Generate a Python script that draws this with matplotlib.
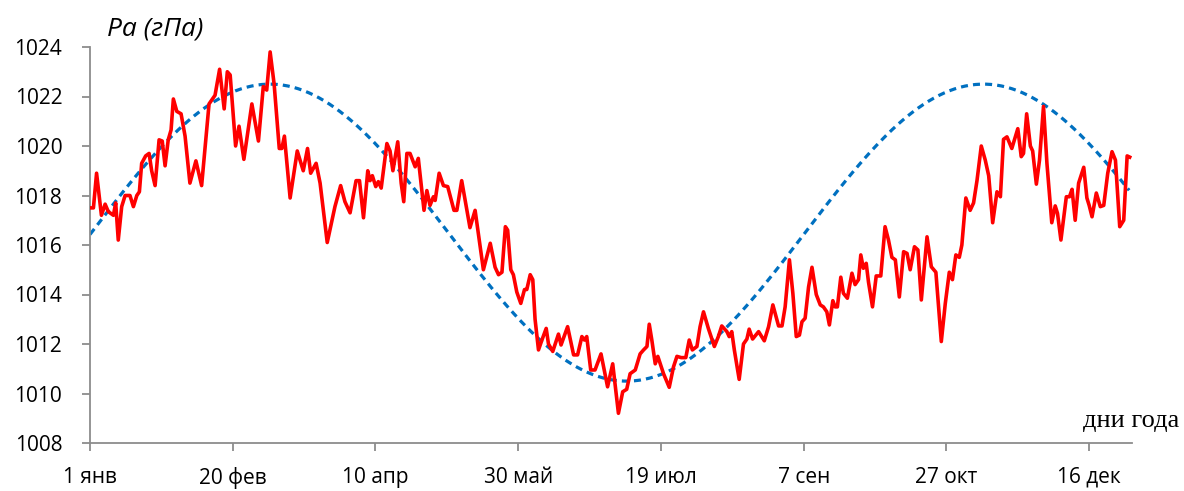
import numpy as np
import matplotlib
matplotlib.use("Agg")
import matplotlib.pyplot as plt

# Observed daily pressure (day of year, hPa)
days = [1.0, 2.2, 3.3, 5.0, 6.3, 7.4, 9.2, 10.0, 10.9, 12.1, 13.3, 15.0, 16.2, 17.4, 18.3, 19.1,
        20.5, 21.7, 22.6, 23.8, 25.2, 26.3, 27.3, 28.4, 29.4, 30.2, 31.4, 32.9, 34.3, 36.0, 38.1,
        40.1, 42.7, 44.8, 46.4, 48.0, 49.1, 50.1, 52.0, 53.2, 54.9, 57.7, 60.0, 61.7, 62.9, 64.1,
        65.5, 67.3, 68.2, 69.1, 71.1, 73.6, 75.7, 77.2, 78.3, 80.2, 81.6, 84.1, 86.8, 88.8, 90.3,
        92.1, 94.2, 95.4, 96.8, 98.3, 99.1, 99.9, 101.1, 102.0, 103.0, 105.0, 106.1, 107.1, 108.8,
        110.0, 110.9, 112.0, 113.1, 114.9, 116.0, 118.0, 119.0, 120.1, 121.3, 121.9, 123.3, 124.8,
        126.3, 128.5, 129.5, 131.2, 134.1, 135.9, 138.8, 141.2, 142.9, 144.1, 145.3, 146.5, 147.3,
        148.4, 149.3, 150.5, 151.9, 153.2, 154.0, 155.2, 156.1, 156.9, 158.1, 159.3, 160.8, 161.6,
        163.1, 165.1, 166.0, 168.3, 169.8, 170.4, 171.8, 173.3, 174.2, 175.0, 176.4, 177.9, 180.0,
        182.3, 184.1, 186.1, 187.6, 189.0, 190.2, 192.0, 193.7, 194.9, 196.1, 196.9, 197.8, 199.0,
        199.9, 201.9, 203.9, 205.4, 206.6, 208.1, 209.7, 210.9, 212.0, 213.6, 214.7, 215.9, 217.6,
        219.7, 221.1, 222.3, 224.1, 224.9, 225.8, 226.7, 228.4, 229.9, 231.1, 231.9, 233.1, 235.2,
        237.2, 238.7, 240.2, 242.2, 243.4, 244.5, 246.0, 247.2, 248.4, 249.5, 250.4, 251.5, 252.7,
        253.9, 255.4, 256.8, 257.9, 259.1, 260.0, 261.2, 262.0, 262.8, 264.0, 264.9, 266.3, 267.9,
        269.0, 270.2, 271.0, 271.9, 272.9, 273.7, 275.1, 276.4, 278.0, 279.5, 280.7, 281.9, 283.1,
        284.5, 286.0, 287.2, 288.3, 289.8, 291.0, 292.2, 294.2, 295.7, 297.3, 299.2, 300.6, 302.0,
        303.1, 304.3, 305.5, 306.4, 307.8, 309.3, 310.5, 311.7, 313.2, 314.6, 315.8, 317.2, 318.7,
        319.9, 321.0, 322.2, 323.9, 326.0, 327.2, 328.0, 329.1, 330.4, 331.2, 332.5, 333.6, 335.0,
        336.2, 337.9, 339.1, 339.9, 341.1, 343.0, 344.1, 345.0, 346.1, 347.3, 349.1, 350.2, 351.0,
        352.0, 353.5, 354.9, 356.1, 357.5, 359.0, 360.2, 361.7, 363.1, 364.3, 365.2]
pressure = [1017.5, 1017.5, 1018.9, 1017.2, 1017.65, 1017.35, 1017.2, 1017.7, 1016.2, 1017.55,
            1018.0, 1018.0, 1017.55, 1018.0, 1018.15, 1019.3, 1019.6, 1019.7, 1019.0, 1018.4,
            1020.25, 1020.2, 1019.2, 1020.25, 1020.65, 1021.9, 1021.4, 1021.3, 1020.4, 1018.5,
            1019.4, 1018.4, 1021.7, 1022.05, 1023.1, 1021.5, 1023.0, 1022.87, 1020.0, 1020.8,
            1019.46, 1021.7, 1020.2, 1022.4, 1022.26, 1023.8, 1022.5, 1019.9, 1019.9, 1020.4,
            1017.9, 1019.8, 1019.0, 1019.9, 1018.9, 1019.3, 1018.5, 1016.1, 1017.55, 1018.4,
            1017.75, 1017.3, 1018.6, 1018.6, 1017.1, 1019.0, 1018.6, 1018.8, 1018.36, 1018.56,
            1018.3, 1020.1, 1019.8, 1019.0, 1020.17, 1018.5, 1017.75, 1019.7, 1019.7, 1019.16,
            1019.5, 1017.4, 1018.2, 1017.6, 1017.95, 1017.8, 1018.9, 1018.4, 1018.36, 1017.4,
            1017.4, 1018.6, 1016.7, 1017.4, 1015.0, 1016.07, 1015.1, 1014.8, 1014.9, 1016.74,
            1016.6, 1015.0, 1014.8, 1014.1, 1013.64, 1014.2, 1014.2, 1014.8, 1014.6, 1013.0,
            1011.76, 1012.16, 1012.63, 1012.0, 1011.7, 1012.4, 1011.96, 1012.7, 1011.9, 1011.56,
            1011.56, 1012.3, 1012.16, 1012.3, 1010.95, 1010.95, 1011.6, 1010.27, 1011.2, 1009.2,
            1010.07, 1010.17, 1010.8, 1010.95, 1011.6, 1011.76, 1011.9, 1012.8, 1012.16, 1011.2,
            1011.5, 1010.8, 1010.25, 1011.08, 1011.5, 1011.45, 1011.45, 1012.16, 1011.76, 1011.9,
            1012.7, 1013.3, 1012.63, 1011.9, 1012.3, 1012.73, 1012.5, 1012.3, 1012.5, 1011.76,
            1010.57, 1012.0, 1012.2, 1012.6, 1012.2, 1012.5, 1012.13, 1012.7, 1013.58, 1012.73,
            1012.73, 1013.5, 1015.4, 1014.05, 1012.3, 1012.36, 1012.9, 1013.04, 1014.3, 1015.1,
            1014.0, 1013.58, 1013.5, 1013.3, 1012.77, 1013.75, 1013.5, 1013.5, 1014.7, 1014.05,
            1013.85, 1014.86, 1014.4, 1014.6, 1015.6, 1015.06, 1015.26, 1014.5, 1013.5, 1014.75,
            1014.75, 1016.74, 1016.2, 1015.5, 1015.4, 1013.9, 1015.73, 1015.66, 1015.0, 1015.93,
            1015.8, 1013.78, 1016.33, 1015.12, 1014.9, 1012.1, 1013.64, 1014.9, 1014.6, 1015.6,
            1015.5, 1016.0, 1017.9, 1017.4, 1017.7, 1018.6, 1020.0, 1019.43, 1018.8, 1016.9,
            1018.15, 1017.95, 1020.27, 1020.37, 1019.9, 1020.7, 1019.57, 1019.7, 1021.3, 1020.0,
            1019.8, 1018.46, 1019.43, 1021.6, 1019.3, 1016.9, 1017.58, 1017.28, 1016.2, 1017.95,
            1017.95, 1018.25, 1017.0, 1018.5, 1019.14, 1017.9, 1017.6, 1017.14, 1018.1, 1017.55,
            1017.6, 1018.9, 1019.77, 1019.43, 1016.74, 1017.0, 1019.6, 1019.55]

# Sinusoidal fit parameters (blue dashed curve)
fit_mean = 1016.5
fit_amplitude = 6.0
fit_period = 250.0
fit_start_day = 1.5

tick_days = [1, 51, 101, 151, 201, 251, 301, 351]
tick_labels = ["1 янв", "20 фев", "10 апр", "30 май", "19 июл", "7 сен", "27 окт", "16 дек"]
y_ticks = [1008, 1010, 1012, 1014, 1016, 1018, 1020, 1022, 1024]

plt.rcParams['font.family'] = ['Open Sans', 'DejaVu Sans']

fig = plt.figure(figsize=(11.84, 4.91), dpi=100)
ax = fig.add_axes([90 / 1184, 48 / 491, 1042 / 1184, 396 / 491])

fit_days = np.linspace(1, 365, 400)
fit_vals = fit_mean + fit_amplitude * np.sin(2 * np.pi * (fit_days - fit_start_day) / fit_period)

ax.plot(days, pressure, color="#FF0000", lw=2.6, solid_joinstyle="round", zorder=3)
ax.plot(fit_days, fit_vals, color="#0070C0", lw=2.3, linestyle=(0, (2.2, 1.6)), zorder=2)

ax.set_xlim(1, 366)
ax.set_ylim(1008, 1024)
ax.set_xticks(tick_days)
ax.set_xticklabels(tick_labels)
ax.set_yticks(y_ticks)

for s in ["top", "right"]:
    ax.spines[s].set_visible(False)
for s in ["left", "bottom"]:
    ax.spines[s].set_color("#8c8c8c")
    ax.spines[s].set_linewidth(1.3)

ax.tick_params(axis="both", direction="out", length=6, width=1.3, color="#8c8c8c",
               labelsize=15, labelcolor="black")
ax.tick_params(axis="y", pad=14)
ax.tick_params(axis="x", pad=11)

fig.text(107 / 1184, 1 - 29 / 491, "Ра (гПа)", fontsize=19, style="italic",
         ha="left", va="center")
fig.text(1083 / 1184, 1 - 421 / 491, "дни года", fontsize=19, family="Liberation Serif",
         ha="left", va="center")

fig.savefig("out.png", dpi=100)
